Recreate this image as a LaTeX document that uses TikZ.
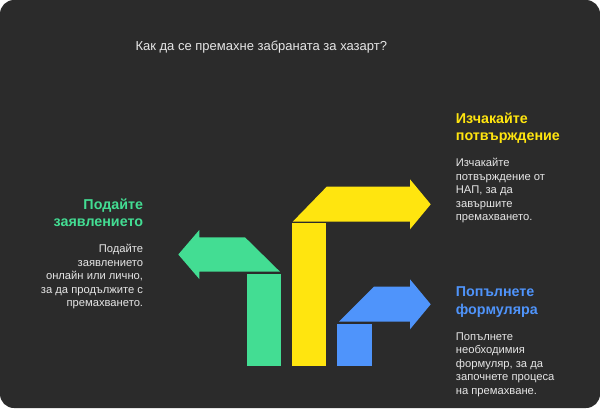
\documentclass[tikz,border=0pt]{standalone}
\usepackage{fontspec}
\setmainfont{Liberation Sans}
\definecolor{bgray}{HTML}{2B2B2B}
\definecolor{sgreen}{HTML}{43DD93}
\definecolor{syellow}{HTML}{FFE50F}
\definecolor{sblue}{HTML}{4F94FB}
\definecolor{ltext}{HTML}{E6E6E6}
\tikzset{
  heading/.style={font=\bfseries\fontsize{14.3}{17.5}\selectfont, inner sep=0pt},
  body/.style={text=ltext, font=\fontsize{11.2}{13.5}\selectfont, inner sep=0pt},
  bar/.style={draw=bgray, line width=0.8pt},
}
\begin{document}
\begin{tikzpicture}[x=1pt,y=-1pt]
  \useasboundingbox (0,0) rectangle (600,408);
  \fill[white] (0,0) rectangle (600,408);
  \fill[bgray, rounded corners=14pt] (0,0) rectangle (600,408);
  \node[text=ltext, font=\fontsize{13}{16}\selectfont, anchor=base, inner sep=0pt] (T) at (261.3,50.7) {Как да се премахне забраната за хазарт?};
  % green step
  \fill[sgreen] (178.3,254.5) -- (199.3,230) -- (199.3,237.3) -- (245,237.3) -- (280,271.7) -- (199.3,271.7) -- (199.3,279) -- cycle;
  \filldraw[bar, fill=sgreen] (246.3,273.3) rectangle (281,366.7);
  % yellow step
  \filldraw[bar, fill=syellow] (291.3,222.7) rectangle (326.7,366.7);
  \fill[syellow] (292.7,221.7) -- (326.7,186.7) -- (410,186.7) -- (410,179.3) -- (430.7,204.3) -- (410,229.3) -- (410,221.7) -- cycle;
  % blue step
  \filldraw[bar, fill=sblue] (336.7,323.3) rectangle (372,366.7);
  \fill[sblue] (339,321.7) -- (374,286.7) -- (410,286.7) -- (410,279.3) -- (430.7,304.3) -- (410,329.3) -- (410,321.7) -- cycle;
  % texts (base = last line)
  \node[heading, text=sgreen, align=right, anchor=base east] (G) at (143.3,226.7) {Подайте\\заявлението};
  \node[body, align=right, anchor=base east] (GT) at (143.3,306.7) {Подайте\\заявлението\\онлайн или лично,\\за да продължите с\\премахването.};
  \node[heading, text=syellow, align=left, anchor=base west] (Y) at (455.7,140.7) {Изчакайте\\потвърждение};
  \node[body, align=left, anchor=base west] (YT) at (455.7,220.7) {Изчакайте\\потвърждение от\\НАП, за да\\завършите\\премахването.};
  \node[heading, text=sblue, align=left, anchor=base west] (B) at (455.7,314) {Попълнете\\формуляра};
  \node[body, align=left, anchor=base west] (BT) at (455.7,394.3) {Попълнете\\необходимия\\формуляр, за да\\започнете процеса\\на премахване.};
\end{tikzpicture}
\end{document}
